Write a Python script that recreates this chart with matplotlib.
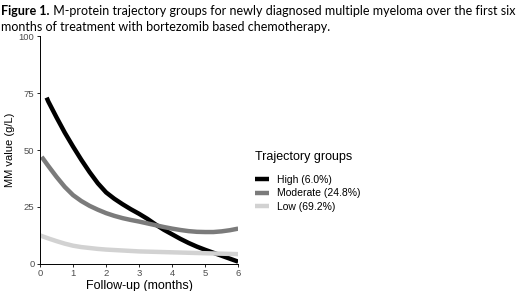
import numpy as np
import matplotlib.pyplot as plt

plt.rcParams['font.family'] = ['Liberation Sans', 'DejaVu Sans']

# values (months, g/L)
months = [0.0, 0.25, 0.5, 0.75, 1.0, 1.25, 1.5, 1.75, 2.0, 2.25, 2.5, 2.75, 3.0,
          3.25, 3.5, 3.75, 4.0, 4.25, 4.5, 4.75, 5.0, 5.25, 5.5, 5.75, 6.0]
high_x = [0.2] + months[1:]
high = [73, 71.3, 64.3, 57.6, 51.5, 45.7, 40.3, 35.4, 31.4, 28.6, 26.2, 24, 22,
        19.8, 17.3, 15, 13, 11, 9.2, 7.6, 6.2, 4.9, 3.6, 2.3, 1.0]
mod_x = [0.05] + months[1:]
moderate = [47, 43, 38.2, 33.8, 30.2, 27.6, 25.5, 23.8, 22.3, 21.1, 20.1, 19.3, 18.6,
            17.8, 17, 16.2, 15.5, 14.9, 14.4, 14.1, 14.0, 14.0, 14.3, 14.8, 15.5]
low = [12.5, 11.2, 10, 8.9, 8.0, 7.4, 7.0, 6.6, 6.3, 6.1, 5.9, 5.7, 5.5,
       5.4, 5.3, 5.2, 5.1, 5.0, 4.9, 4.8, 4.7, 4.6, 4.5, 4.4, 4.3]
labels = ["High (6.0%)", "Moderate (24.8%)", "Low (69.2%)"]
colors = ["#000000", "#7b7b7b", "#d2d2d2"]

fig = plt.figure(figsize=(5.2, 2.91), dpi=100)
ax = fig.add_axes([0.077, 0.093, 0.381, 0.783])

kw = dict(lw=3.2, solid_capstyle='butt', solid_joinstyle='round')
ax.plot(high_x, high, color=colors[0], label=labels[0], **kw)
ax.plot(mod_x, moderate, color=colors[1], label=labels[1], **kw)
ax.plot(months, low, color=colors[2], label=labels[2], **kw)

ax.set_xlim(0, 6)
ax.set_ylim(0, 100)
ax.set_xticks(range(7))
ax.set_yticks([0, 25, 50, 75, 100])
ax.spines['top'].set_visible(False)
ax.spines['right'].set_visible(False)
ax.tick_params(labelsize=6.8, labelcolor='#4d4d4d', length=2.5, width=0.6, pad=1.5)
for s in ['left', 'bottom']:
    ax.spines[s].set_linewidth(0.7)
ax.set_xlabel('Follow-up (months)', fontsize=9, labelpad=1)
ax.set_ylabel('MM value (g/L)', fontsize=8, labelpad=3)

leg = ax.legend(title='Trajectory groups', loc='upper left', bbox_to_anchor=(1.04, 0.535),
                frameon=False, fontsize=7.5, title_fontsize=9, handlelength=1.3,
                handletextpad=0.8, labelspacing=0.36)
leg._legend_box.align = 'left'
leg._legend_box.sep = 8

cap_font = ['Lato', 'DejaVu Sans']
t1 = fig.text(0.002, 0.982, 'Figure 1.', fontsize=9, fontweight='bold', va='top', family=cap_font)
ax.annotate(' M-protein trajectory groups for newly diagnosed multiple myeloma over the first six',
            xy=(1, 0), xycoords=t1, va='bottom', ha='left', fontsize=9, family=cap_font,
            annotation_clip=False)
fig.text(0.002, 0.929, 'months of treatment with bortezomib based chemotherapy.', fontsize=9,
         va='top', family=cap_font)

fig.savefig('out.png', dpi=100)
